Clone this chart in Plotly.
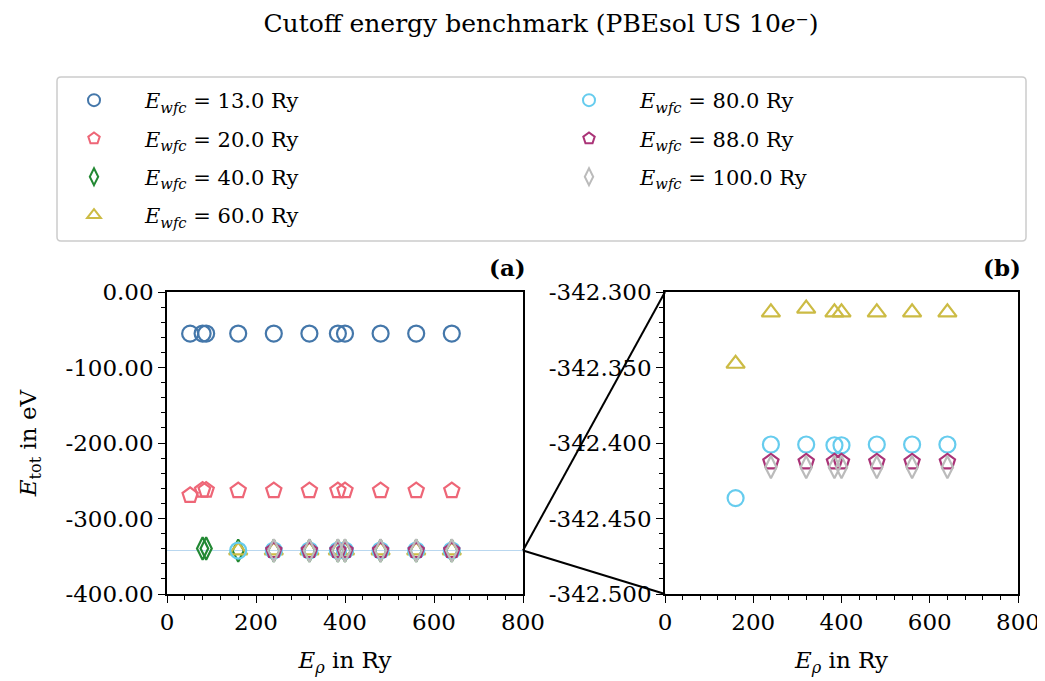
import plotly.graph_objects as go

# ---------------- data ----------------
x_all = [52, 80, 88, 160, 240, 320, 384, 400, 480, 560, 640]
x_40 = [80, 88, 160, 240, 320, 384, 400, 480, 560, 640]
x_60 = [160, 240, 320, 384, 400, 480, 560, 640]
x_80 = [160, 240, 320, 384, 400, 480, 560, 640]
x_88 = [240, 320, 384, 400, 480, 560, 640]
x_100 = [240, 320, 384, 400, 480, 560, 640]

e_13 = [-55.2, -55.0, -55.0, -55.0, -55.0, -55.0, -55.0, -55.0, -55.0, -55.0, -55.0]
e_20 = [-269.5, -262.4, -262.4, -263.0, -263.0, -263.0, -263.0, -263.0, -263.0, -263.0, -263.0]
e_40 = [-339.8, -339.8, -342.62, -342.62, -342.62, -342.62, -342.62, -342.62, -342.62, -342.62]
e_60 = [-342.3475, -342.3135, -342.311, -342.3135, -342.3135, -342.3135, -342.3135, -342.3135]
e_80 = [-342.4365, -342.401, -342.401, -342.4015, -342.4015, -342.401, -342.401, -342.401]
e_88 = [-342.4125, -342.4125, -342.4125, -342.4125, -342.4125, -342.4125, -342.4125]
e_100 = [-342.416, -342.416, -342.416, -342.416, -342.416, -342.416, -342.416]

series_names = ["13.0", "20.0", "40.0", "60.0", "80.0", "88.0", "100.0"]
series_x = [x_all, x_all, x_40, x_60, x_80, x_88, x_100]
series_y = [e_13, e_20, e_40, e_60, e_80, e_88, e_100]
colors = ["#4477AA", "#EE6677", "#228833", "#CCBB44", "#66CCEE", "#AA3377", "#BBBBBB"]
symbols = ["circle-open", "pentagon-open", "diamond-tall-open", "triangle-up-open",
           "circle-open", "pentagon-open", "diamond-tall-open"]
legend_cols = ["legend", "legend", "legend", "legend", "legend2", "legend2", "legend2"]

range_a_y = [-400, 0]
range_b_y = [-342.5, -342.3]
range_x = [0, 800]
zoom_y = -342.4

ticks_a_y = [0, -100, -200, -300, -400]
ticks_a_text = ["0.00", "-100.00", "-200.00", "-300.00", "-400.00"]
ticks_b_y = [-342.30, -342.35, -342.40, -342.45, -342.50]
ticks_b_text = ["-342.300", "-342.350", "-342.400", "-342.450", "-342.500"]
ticks_x = [0, 200, 400, 600, 800]

W, H = 1045, 681
OFF = 8  # page body margin


def fx(p):
    return (p - OFF) / W


def fy(p):
    return 1 - (p - OFF) / H


FONT = "DejaVu Serif"
FS_TICK = 23
FS_TITLE = 25
FS_LEG = 21
FS_AX = 23

dom_a = [fx(167), fx(523)]
dom_b = [fx(665), fx(1018)]
dom_y = [fy(594), fy(292)]

fig = go.Figure()

for name, xs, ys, c, s, lg in zip(series_names, series_x, series_y, colors, symbols, legend_cols):
    label = f"<i>E</i><sub><i>wfc</i></sub> = {name} Ry"
    fig.add_trace(go.Scatter(x=xs, y=ys, mode="markers", name=label, legend=lg,
                             legendgroup=name,
                             marker=dict(symbol=s, size=16, color=c,
                                         line=dict(color=c, width=2.2)),
                             xaxis="x", yaxis="y"))
    fig.add_trace(go.Scatter(x=xs, y=ys, mode="markers", name=label, showlegend=False,
                             legendgroup=name,
                             marker=dict(symbol=s, size=16, color=c,
                                         line=dict(color=c, width=2.2)),
                             xaxis="x2", yaxis="y2"))

axis_common = dict(showline=True, linecolor="black", linewidth=1.5, mirror=True,
                   ticks="outside", ticklen=7, tickwidth=1.3, tickcolor="black",
                   showgrid=False, zeroline=False,
                   tickfont=dict(family=FONT, size=FS_TICK, color="black"))

fig.update_layout(
    width=W, height=H,
    margin=dict(l=0, r=0, t=0, b=0, autoexpand=False),
    paper_bgcolor="white", plot_bgcolor="white",
    font=dict(family=FONT, size=FS_TICK, color="black"),
    xaxis=dict(domain=dom_a, range=range_x, tickvals=ticks_x, anchor="y",
               minor=dict(ticks="outside", ticklen=4, tickwidth=1, dtick=40, tickcolor="black"),
               title=dict(text="<i>E</i><sub><i>ρ</i></sub> in Ry", standoff=18,
                          font=dict(family=FONT, size=FS_AX)),
               **axis_common),
    yaxis=dict(domain=dom_y, range=range_a_y, tickvals=ticks_a_y, ticktext=ticks_a_text,
               anchor="x",
               minor=dict(ticks="outside", ticklen=4, tickwidth=1, dtick=20, tickcolor="black"),
               title=dict(text="<i>E</i><sub>tot</sub> in eV", standoff=22,
                          font=dict(family=FONT, size=FS_AX)),
               **axis_common),
    xaxis2=dict(domain=dom_b, range=range_x, tickvals=ticks_x, anchor="y2",
                minor=dict(ticks="outside", ticklen=4, tickwidth=1, dtick=40, tickcolor="black"),
                title=dict(text="<i>E</i><sub><i>ρ</i></sub> in Ry", standoff=18,
                           font=dict(family=FONT, size=FS_AX)),
                **axis_common),
    yaxis2=dict(domain=dom_y, range=range_b_y, tickvals=ticks_b_y, ticktext=ticks_b_text,
                anchor="x2",
                minor=dict(ticks="outside", ticklen=4, tickwidth=1, dtick=0.01, tickcolor="black"),
                **axis_common),
    title=dict(text="Cutoff energy benchmark (PBEsol US 10<i>e</i>⁻)",
               x=fx(541), xanchor="center", y=fy(23), yanchor="middle",
               font=dict(family=FONT, size=FS_TITLE, color="black")),
    legend=dict(x=fx(43), y=fy(80), xanchor="left", yanchor="top",
                bgcolor="rgba(0,0,0,0)", borderwidth=0, tracegroupgap=8,
                itemsizing="constant", itemwidth=92,
                font=dict(family=FONT, size=FS_LEG, color="black")),
    legend2=dict(x=fx(538), y=fy(80), xanchor="left", yanchor="top",
                 bgcolor="rgba(0,0,0,0)", borderwidth=0, tracegroupgap=8,
                 itemsizing="constant", itemwidth=92,
                 font=dict(family=FONT, size=FS_LEG, color="black")),
)

# legend frame (rounded)
x0, x1 = fx(57), fx(1026)
y0, y1 = fy(241), fy(77)
rx, ry = 4 / W, 4 / H
path = (f"M {x0+rx},{y0} L {x1-rx},{y0} Q {x1},{y0} {x1},{y0+ry} L {x1},{y1-ry} "
        f"Q {x1},{y1} {x1-rx},{y1} L {x0+rx},{y1} Q {x0},{y1} {x0},{y1-ry} "
        f"L {x0},{y0+ry} Q {x0},{y0} {x0+rx},{y0} Z")
fig.add_shape(type="path", path=path, xref="paper", yref="paper",
              line=dict(color="#cccccc", width=1.5), fillcolor="rgba(0,0,0,0)")

# zoom indicator line in panel (a)
fig.add_shape(type="line", xref="x", yref="y", x0=range_x[0], x1=range_x[1],
              y0=zoom_y, y1=zoom_y, line=dict(color="#b9d7ef", width=1), layer="below")

# connecting lines from panel (a) to panel (b)
frac = (zoom_y - range_a_y[0]) / (range_a_y[1] - range_a_y[0])
py = dom_y[0] + frac * (dom_y[1] - dom_y[0])
for ty in (dom_y[1], dom_y[0]):
    fig.add_shape(type="line", xref="paper", yref="paper", x0=dom_a[1], y0=py,
                  x1=dom_b[0], y1=ty, line=dict(color="black", width=2))

# panel labels
fig.add_annotation(text="<b>(a)</b>", xref="x domain", yref="y domain", x=1.015, y=1.0,
                   xanchor="right", yanchor="bottom", showarrow=False, yshift=9,
                   font=dict(family=FONT, size=FS_TICK, color="black"))
fig.add_annotation(text="<b>(b)</b>", xref="x2 domain", yref="y2 domain", x=1.015, y=1.0,
                   xanchor="right", yanchor="bottom", showarrow=False, yshift=9,
                   font=dict(family=FONT, size=FS_TICK, color="black"))

fig.write_html("out.html")
